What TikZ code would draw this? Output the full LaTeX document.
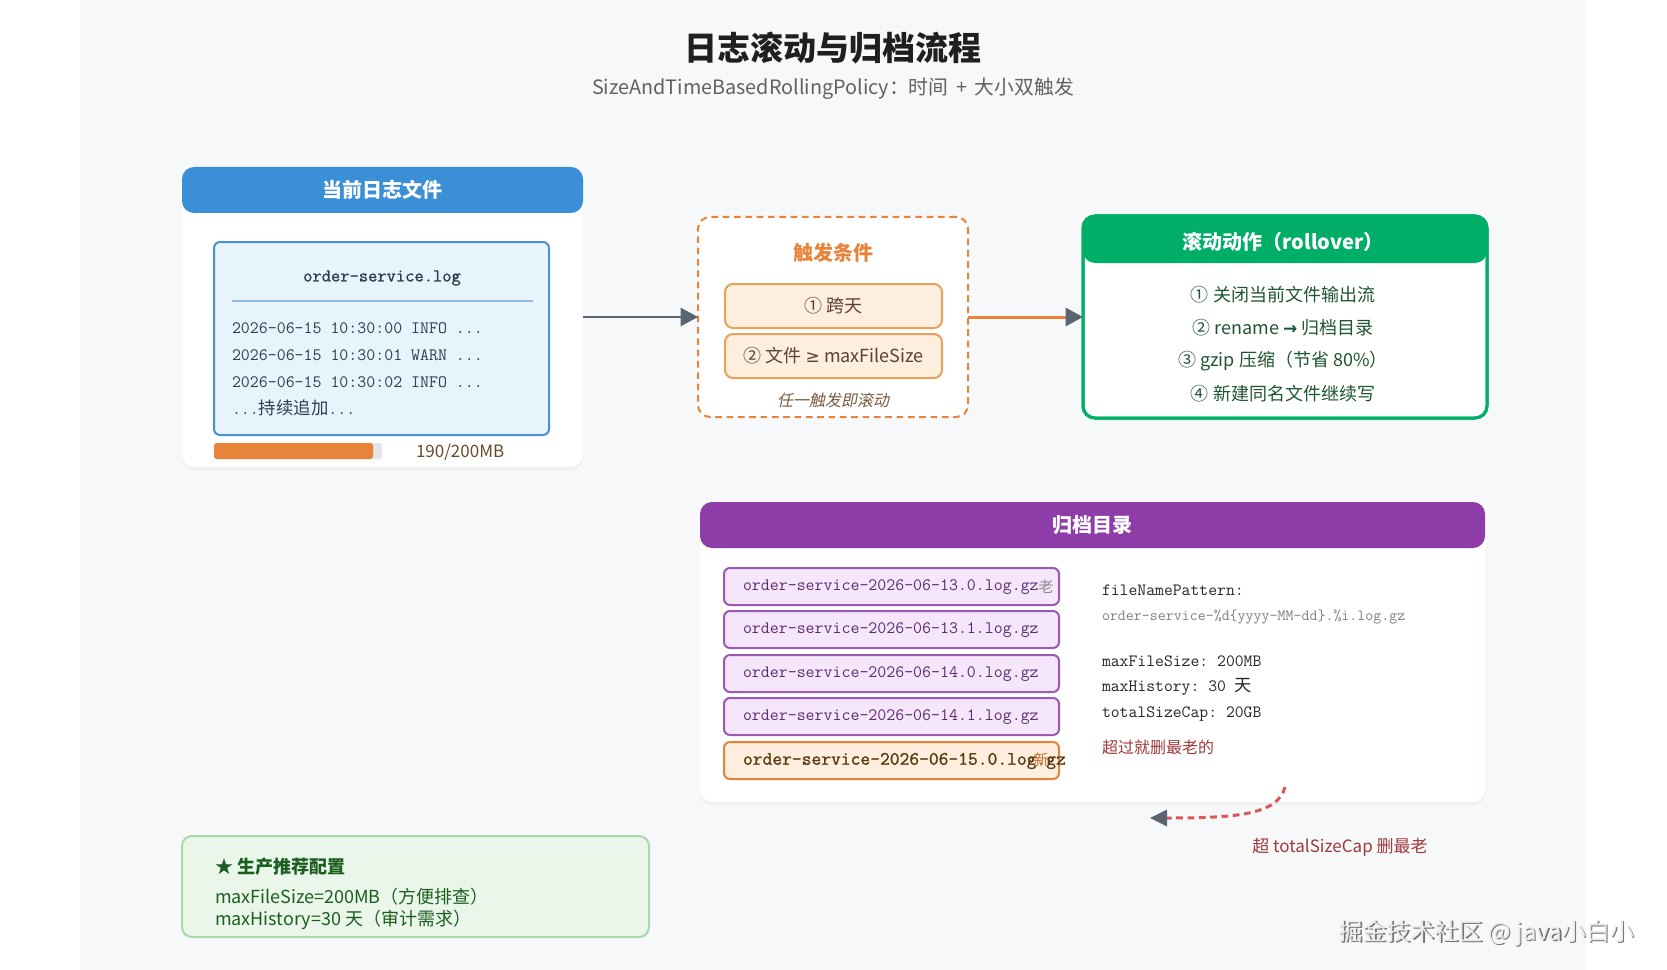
\documentclass[tikz,border=0pt]{standalone}
\usepackage{fontspec}
\setmainfont{Noto Sans CJK SC}
\newfontfamily\cjkit{Noto Sans CJK SC}[FakeSlant=0.2]
\newfontfamily\djv{DejaVu Sans}
\setmonofont{Latin Modern Mono}
\newfontfamily\monob{Latin Modern Mono}[FakeBold=1.2]
\usetikzlibrary{arrows.meta,shadows}
\newcommand\fpx[1]{\fontsize{\fpeval{#1*0.75}pt}{\fpeval{#1*0.9}pt}\selectfont}
\newcommand\bx[6]{\node[#1, anchor=north west, minimum width={(#4-#2)*0.75pt}, minimum height={(#5-#3)*0.75pt}] (#6) at (#2,#3) {};}
\definecolor{bggray}{HTML}{F7F8FA}
\definecolor{hblue}{HTML}{3B8FD6}
\definecolor{logfill}{HTML}{E8F4FC}
\definecolor{logborder}{HTML}{4A90D9}
\definecolor{sepblue}{HTML}{90BEE8}
\definecolor{logtext}{HTML}{2C3E50}
\definecolor{orng}{HTML}{E8833A}
\definecolor{lightorng}{HTML}{FDEEDD}
\definecolor{orngborder}{HTML}{E8A25E}
\definecolor{condtxt}{HTML}{5C4033}
\definecolor{ittxt}{HTML}{7A5C3E}
\definecolor{arrowgray}{HTML}{5A6472}
\definecolor{rgreen}{HTML}{00AE68}
\definecolor{dkgreen}{HTML}{1E5631}
\definecolor{arcpurple}{HTML}{8E3DA8}
\definecolor{filefill}{HTML}{F5E6FB}
\definecolor{fileborder}{HTML}{9B59B6}
\definecolor{filetext}{HTML}{5B2C6F}
\definecolor{newtext}{HTML}{5A3A10}
\definecolor{dkred}{HTML}{A0393C}
\definecolor{dashred}{HTML}{E05555}
\definecolor{tipfill}{HTML}{EAF6EA}
\definecolor{tipborder}{HTML}{A9D9A9}
\definecolor{tiptext}{HTML}{1B5E20}
\definecolor{bartext}{HTML}{6B4A2B}
\tikzset{
  panel/.style={fill=white, rounded corners=9pt, drop shadow={opacity=0.07, shadow xshift=0pt, shadow yshift=-2.5pt}},
  hdr/.style={rounded corners=9pt},
  hdrtext/.style={font=\fpx{20}\bfseries, text=white},
  logbox/.style={fill=logfill, draw=logborder, line width=1.5pt, rounded corners=4.5pt},
  logline/.style={anchor=west, font=\ttfamily\fpx{17.4}, text=logtext},
  trigbox/.style={fill=white, draw=orng, line width=1.5pt, dash pattern=on 5pt off 3.5pt, rounded corners=9pt},
  cond/.style={fill=lightorng, draw=orngborder, line width=1.5pt, rounded corners=6pt},
  condtext/.style={font=\fpx{18}, text=condtxt},
  rollbox/.style={fill=white, draw=rgreen, line width=2.25pt, rounded corners=9pt, drop shadow={opacity=0.07, shadow xshift=0pt, shadow yshift=-2.5pt}},
  rolltext/.style={font=\fpx{18}, text=dkgreen},
  filebox/.style={fill=filefill, draw=fileborder, line width=1.5pt, rounded corners=4.5pt},
  filetxt/.style={anchor=west, font=\ttfamily\fpx{17.4}, text=filetext},
  cfg/.style={anchor=west, font=\ttfamily\fpx{17.2}, text=black!85},
  tipbox/.style={fill=tipfill, draw=tipborder, line width=1.5pt, rounded corners=7.5pt},
  tiptxt/.style={anchor=west, font=\fpx{18}, text=tiptext},
  flow/.style={line width=2pt, -{Triangle[length=13pt,width=13.5pt,color=arrowgray]}},
}
\begin{document}
\begin{tikzpicture}[x=0.75pt,y=-0.75pt, every node/.style={inner sep=0pt, outer sep=0pt}]
\useasboundingbox (0,0) rectangle (1667,970);
\fill[white] (0,0) rectangle (1667,970);
\fill[bggray] (80,0) rectangle (1586,970);

% titles
\node[font=\fpx{33}\bfseries, text=black!88] (title) at (833,48) {日志滚动与归档流程};
\node[font=\fpx{19.8}, text=black!62] (subtitle) at (833,89) {SizeAndTimeBasedRollingPolicy：时间 \,+\, 大小双触发};

% current log file panel
\bx{panel}{182}{167}{583}{467}{cur}
\bx{hdr, fill=hblue}{182}{167}{583}{213}{curh}
\node[hdrtext] (curt) at (curh) {当前日志文件};
\bx{logbox}{214}{242}{549}{435}{log}
\node[font=\monob\fpx{18}, text=logtext] (logname) at (382,278) {order-service.log};
\draw[sepblue, line width=1.5pt] (232,301) -- (533,301);
\node[logline] (l1) at (232,328) {2026-06-15 10:30:00 INFO ...};
\node[logline] (l2) at (232,355) {2026-06-15 10:30:01 WARN ...};
\node[logline] (l3) at (232,382) {2026-06-15 10:30:02 INFO ...};
\node[logline] (l4) at (232,408) {...{\rmfamily 持续追加}...};
\fill[black!10, rounded corners=2pt] (214,443) rectangle (382,459);
\fill[orng, rounded corners=2pt] (214,443) rectangle (373,459);
\node[anchor=west, font=\fpx{17}, text=bartext] (bar) at (416,452) {190/200MB};

% trigger
\bx{trigbox}{698}{217}{968}{417}{trig}
\node[font=\fpx{20}\bfseries, text=orng] (trigt) at (833,253) {触发条件};
\bx{cond}{725}{284}{942}{328}{c1}
\node[condtext] (c1t) at (c1) {① 跨天};
\bx{cond}{725}{334}{942}{378}{c2}
\node[condtext] (c2t) at (c2) {② 文件 {\djv\fpx{17}≥} maxFileSize};
\node[font=\cjkit\fpx{16}, text=ittxt] (anyt) at (833,400) {任一触发即滚动};

% rollover
\bx{rollbox}{1083}{216}{1487}{418}{roll}
\bx{hdr, fill=rgreen}{1083}{216}{1487}{263}{rollh}
\draw[rgreen, line width=2.25pt, rounded corners=9pt] (roll.north west) rectangle (roll.south east);
\node[hdrtext] (rollt) at (1283,242) {滚动动作（rollover）};
\node[rolltext] (r1) at (1283,295) {① 关闭当前文件输出流};
\node[rolltext] (r2) at (1283,328) {② rename {\djv\fpx{17}\textbf{→}} 归档目录};
\node[rolltext] (r3) at (1283,361) {③ gzip 压缩（节省 80\%）};
\node[rolltext] (r4) at (1283,394) {④ 新建同名文件继续写};

% archive
\bx{panel}{700}{502}{1485}{802}{arc}
\bx{hdr, fill=arcpurple}{700}{502}{1485}{548}{arch}
\node[hdrtext] (arct) at (arch) {归档目录};
\bx{filebox}{724}{568}{1059}{605}{f1}
\bx{filebox}{724}{611}{1059}{648}{f2}
\bx{filebox}{724}{655}{1059}{692}{f3}
\bx{filebox}{724}{698}{1059}{735}{f4}
\bx{filebox, fill=lightorng, draw=orng}{724}{742}{1059}{779}{f5}
\node[filetxt] (f1t) at (743,587) {order-service-2026-06-13.0.log.gz};
\node[filetxt] (f2t) at (743,630) {order-service-2026-06-13.1.log.gz};
\node[filetxt] (f3t) at (743,674) {order-service-2026-06-14.0.log.gz};
\node[filetxt] (f4t) at (743,717) {order-service-2026-06-14.1.log.gz};
\node[anchor=west, font=\monob\fpx{19}, text=newtext] (f5t) at (743,761) {order-service-2026-06-15.0.log.gz};
\node[font=\fpx{15}, text=black!45] (old) at (1046,587) {老};
\node[font=\fpx{15}, text=orng!85!black] (new) at (1041,760) {新};

\node[cfg] (fp) at (1102,590) {fileNamePattern:};
\node[cfg, font=\ttfamily\fpx{15.5}, text=black!50] (fpv) at (1102,617) {order-service-\%d\{yyyy-MM-dd\}.\%i.log.gz};
\node[cfg] (mfs) at (1102,661) {maxFileSize: 200MB};
\node[cfg] (mh) at (1102,687) {maxHistory: 30 {\rmfamily 天}};
\node[cfg] (tsc) at (1102,714) {totalSizeCap: 20GB};
\node[anchor=west, font=\fpx{16}, text=dkred] (del) at (1102,747) {超过就删最老的};

% connectors
\draw[flow, arrowgray] (cur.east) -- (trig.west);
\draw[flow, orng, line width=2.25pt] (trig.east) -- (roll.west);
\coordinate (ds) at (1285,787);
\coordinate (de) at (1150,818);
\draw[dashred, line width=2.25pt, dash pattern=on 5pt off 3.5pt, -{Triangle[length=12.75pt,width=12pt,color=arrowgray]}] (ds) .. controls (1278,815) and (1235,818) .. (de);
\node[font=\fpx{17}, text=dkred] (capt) at (1340,847) {超 totalSizeCap 删最老};

% tip
\bx{tipbox}{182}{836}{649}{937}{tip}
\node[tiptxt, font=\fpx{18}\bfseries] (tip1) at (215,867) {★ 生产推荐配置};
\node[tiptxt] (tip2) at (215,897) {maxFileSize=200MB（方便排查）};
\node[tiptxt] (tip3) at (215,920) {maxHistory=30 天（审计需求）};

% watermark
\node[font=\fpx{24}, text=black!55] (wms) at (1488,934.5) {掘金技术社区 @ java小白小};
\node[font=\fpx{24}, text=black!8] (wm) at (1486.5,933) {掘金技术社区 @ java小白小};
\end{tikzpicture}
\end{document}
